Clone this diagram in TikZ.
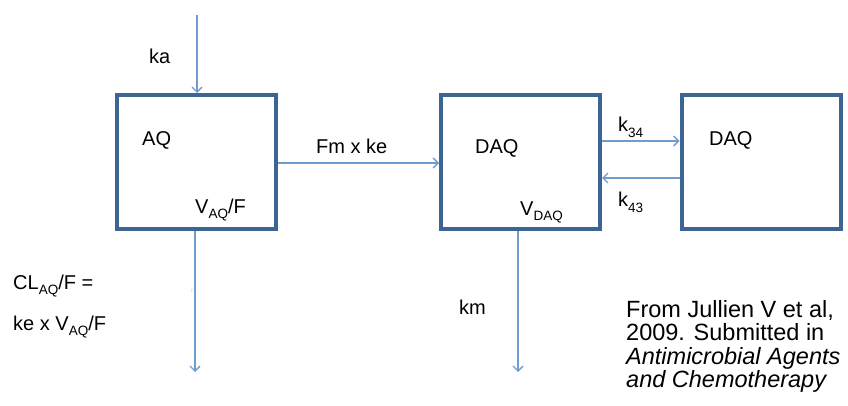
\documentclass[tikz,border=0pt]{standalone}
\usepackage{fontspec}
\setmainfont{Liberation Sans}
\usetikzlibrary{arrows.meta}
\definecolor{boxblue}{HTML}{3D6593}
\definecolor{arrblue}{HTML}{6F9BD1}
\newcommand{\lowsub}[1]{\raisebox{-0.28em}{\fontsize{13.5}{14}\selectfont #1}}
\tikzset{
  compartment/.style={draw=boxblue, line width=4pt, inner sep=0pt, minimum width=159pt, minimum height=134pt},
  flow/.style={draw=arrblue, line width=1.6pt, -{Straight Barb[length=5pt,width=10pt,line width=1.3pt]}},
  lbl/.style={inner sep=0pt, font=\fontsize{20}{24}\selectfont, anchor=base west},
  cite/.style={inner sep=0pt, font=\fontsize{23.5}{23.5}\selectfont, anchor=base west}
}
\begin{document}
\begin{tikzpicture}[x=1pt,y=-1pt]
\useasboundingbox (0,0) rectangle (848,406);
% compartments
\node[compartment] (aq)   at (196.5,162) {};
\node[compartment] (daq)  at (520.5,162) {};
\node[compartment] (daq3) at (761,162) {};
% free ends
\coordinate (kastart) at (197,15);
\coordinate (aqend) at (195,372);
\coordinate (daqend) at (518,372);
% connectors
\draw[flow] (kastart) -- (kastart |- aq.north);
\draw[flow] (aq.east |- 0,163) -- (daq.west |- 0,163);
\draw[flow] (daq.east |- 0,141) -- (daq3.west |- 0,141);
\draw[flow] (daq3.west |- 0,178) -- (daq.east |- 0,178);
\draw[flow] (aq.south -| aqend) -- (aqend);
\draw[flow] (daq.south -| daqend) -- (daqend);
% labels
\node[lbl] (ka) at (149,64) {ka};
\node[lbl] (aqlbl) at (142,146) {AQ};
\node[lbl] (vaq) at (195,213) {V\lowsub{AQ}/F};
\node[lbl] (fm) at (316,154) {Fm x ke};
\node[lbl] (daqlbl) at (475,154) {DAQ};
\node[lbl] (vdaq) at (520,215) {V\lowsub{DAQ}};
\node[lbl] (k34) at (618,132) {k\lowsub{34}};
\node[lbl] (k43) at (618,207) {k\lowsub{43}};
\node[lbl] (daq3lbl) at (709,146) {DAQ};
\node[lbl] (cl1) at (13,289) {CL\lowsub{AQ}/F =};
\node[lbl] (cl2) at (13,330) {ke x V\lowsub{AQ}/F};
\node[lbl] (km) at (459,314) {km};
\node[inner sep=0pt, font=\fontsize{5}{5}\selectfont] (dot) at (192,291) {:};
\node[cite] (c1) at (626,317) {From Jullien V et al,};
\node[cite] (c2) at (626,340.5) {2009. Submitted in};
\node[cite] (c3) at (626,364) {\itshape Antimicrobial Agents};
\node[cite] (c4) at (626,387.5) {\itshape and Chemotherapy};
\end{tikzpicture}
\end{document}
